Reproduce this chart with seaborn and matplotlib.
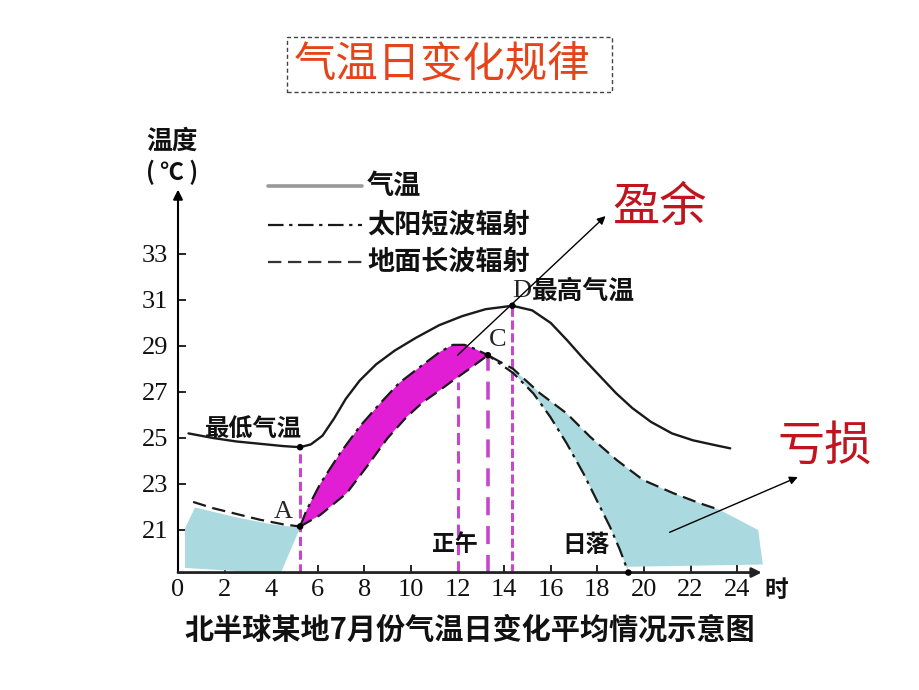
import matplotlib
matplotlib.use("Agg")
import matplotlib.pyplot as plt
from matplotlib.lines import Line2D
from matplotlib.patches import Rectangle
import seaborn as sns
import numpy as np

# ---------------- data ----------------
# air temperature (solid)
air_h = [0.45, 1.5, 2.5, 3.5, 4.5, 5.24, 5.7, 6.2, 6.7, 7.2, 7.8, 8.5, 9.3, 10.2, 11.2, 12.2,
         13.2, 14.35, 15.2, 16.0, 16.7, 17.4, 18.1, 18.8, 19.5, 20.3, 21.2, 22.1, 23.0, 23.7]
air_t = [25.2, 25.0, 24.85, 24.75, 24.65, 24.6, 24.72, 25.1, 25.85, 26.7, 27.5, 28.2, 28.8, 29.35,
         29.9, 30.3, 30.6, 30.75, 30.55, 30.0, 29.25, 28.45, 27.7, 26.95, 26.3, 25.7, 25.2, 24.9,
         24.7, 24.55]

# solar short-wave radiation (dash-dot), sunrise side to sunset
sun_h = [5.24, 5.52, 6.1, 6.95, 7.8, 8.67, 9.5, 10.4, 11.25, 11.8, 12.3, 12.8, 13.3, 14.39, 15.25,
         15.97, 16.68, 17.4, 17.97, 18.54, 18.97, 19.33]
sun_t = [21.15, 21.87, 23.0, 24.33, 25.5, 26.5, 27.4, 28.1, 28.75, 29.05, 29.05, 28.85, 28.6, 27.82,
         26.94, 25.93, 24.77, 23.46, 22.3, 21.14, 20.13, 19.15]

# ground long-wave radiation (dashed): night part and day part
gnd_night_h = [0.65, 1.5, 2.5, 3.5, 4.5, 5.24]
gnd_night_t = [22.22, 21.95, 21.7, 21.45, 21.25, 21.15]
gnd_day_h = [5.24, 6.1, 7.24, 8.1, 9.0, 9.8, 10.5, 11.2, 11.8, 12.5, 13.3, 14.39, 15.54, 16.68,
             17.68, 18.83, 19.97, 21.26, 22.4, 23.26]
gnd_day_t = [21.15, 21.65, 22.6, 23.75, 25.0, 25.9, 26.55, 27.05, 27.5, 28.0, 28.6, 28.0, 26.94,
             26.07, 25.06, 24.04, 23.17, 22.6, 22.16, 21.87]

# filled areas (outline corners)
loss_left_h = [0.3, 0.73, 2.5, 4.0, 5.24, 4.4, 0.3]
loss_left_t = [21.07, 21.98, 21.55, 21.25, 21.1, 19.1, 19.35]
loss_right_corner_h = [24.9, 25.1, 19.3]
loss_right_corner_t = [21.0, 19.5, 19.4]

# vertical guide lines and marked points
vline_h = [5.24, 12.0, 13.3, 14.35]
vline_top = [24.6, 27.45, 28.6, 30.75]
point_h = [5.24, 5.24, 13.3, 14.35, 19.33]
point_t = [21.15, 24.6, 28.6, 30.75, 19.15]

xticks = list(range(0, 25, 2))
yticks = [21, 23, 25, 27, 29, 31, 33]

# ---------------- style ----------------
sns.set_theme(style="white")
plt.rcParams["font.family"] = ["Noto Sans CJK SC", "DejaVu Sans"]
CJK = ["Noto Sans CJK SC", "DejaVu Sans"]
SERIF = ["Liberation Serif", "DejaVu Serif"]

W, H = 920, 690
fig = plt.figure(figsize=(9.2, 6.9), dpi=100)
fig.patch.set_facecolor("white")


def P(x, y):
    return x / W, 1 - y / H


# axes: hour h -> px 178 + 23.3h ; temp T -> px 530 - 23(T-21)
x0, pxh = 178, 23.3
ymin, ymax = 19.15, 36.0
ybot = 530 - 23 * (ymin - 21)
ytop = 530 - 23 * (ymax - 21)
ax = fig.add_axes([x0 / W, 1 - ybot / H, 26 * pxh / W, (ybot - ytop) / H])
ax.set_xlim(0, 26)
ax.set_ylim(ymin, ymax)
ax.set_facecolor("none")
for s in ax.spines.values():
    s.set_visible(False)

MAG = "#E21ED4"
BLUE = "#AADADF"
VIO = "#C846CC"

# fills
ax.fill(loss_left_h, loss_left_t, color=BLUE, lw=0, zorder=1)
gain_h = sun_h[:13] + gnd_day_h[:11][::-1]
gain_t = sun_t[:13] + gnd_day_t[:11][::-1]
ax.fill(gain_h, gain_t, color=MAG, lw=0, zorder=1)
loss_h = gnd_day_h[11:] + loss_right_corner_h + sun_h[13:][::-1]
loss_t = gnd_day_t[11:] + loss_right_corner_t + sun_t[13:][::-1]
ax.fill(loss_h, loss_t, color=BLUE, lw=0, zorder=1)

# vertical guides
styles = [(0, (3, 1.5)), (0, (4, 2)), (0, (5, 3)), (0, (3, 1.2))]
widths = [2.2, 2.2, 2.6, 2.2]
for h, top, st, w in zip(vline_h, vline_top, styles, widths):
    ax.vlines(h, ymin, top, colors=VIO, linestyles=[st], lw=w, zorder=2)

# lines
sns.lineplot(x=air_h, y=air_t, ax=ax, color="#1a1a1a", lw=1.7, sort=False, estimator=None,
             legend=False, zorder=4)
sns.lineplot(x=sun_h, y=sun_t, ax=ax, color="#1a1a1a", lw=1.6, sort=False, estimator=None,
             legend=False, zorder=4, linestyle=(0, (7, 2.5, 1.5, 2.5)))
sns.lineplot(x=gnd_night_h, y=gnd_night_t, ax=ax, color="#1a1a1a", lw=1.6, sort=False,
             estimator=None, legend=False, zorder=4, linestyle=(0, (6, 3)))
sns.lineplot(x=gnd_day_h, y=gnd_day_t, ax=ax, color="#1a1a1a", lw=1.6, sort=False,
             estimator=None, legend=False, zorder=4, linestyle=(0, (6, 3)))
sns.scatterplot(x=point_h, y=point_t, ax=ax, color="black", s=22, zorder=5, legend=False,
                edgecolor="none", clip_on=False)

# axes arrows
ax.annotate("", xy=(0, 35.8), xytext=(0, ymin), annotation_clip=False,
            arrowprops=dict(arrowstyle="-|>", color="black", lw=1.5, mutation_scale=14,
                            shrinkA=0, shrinkB=0))
ax.annotate("", xy=(25.05, ymin), xytext=(0, ymin), annotation_clip=False,
            arrowprops=dict(arrowstyle="-|>", color="#222222", lw=2.0, mutation_scale=14,
                            shrinkA=0, shrinkB=0))

# ticks
ax.set_xticks(xticks)
ax.set_xticklabels([str(v) for v in xticks], fontfamily=SERIF, fontsize=19)
ax.set_yticks(yticks)
ax.set_yticklabels([str(v) for v in yticks], fontfamily=SERIF, fontsize=19)
ax.tick_params(axis="both", direction="in", length=6, width=1.2, color="black",
               labelcolor="#111111", bottom=True, left=True)
ax.tick_params(axis="x", pad=5)
ax.tick_params(axis="y", pad=7)
ax.grid(False)

# in-plot annotations
ax.text(5.3, 24.85, "最低气温", fontsize=17.5, ha="right", va="bottom", family=CJK,
        fontweight="bold", color="#111111")
ax.text(4.5, 21.3, "A", fontsize=19, ha="center", va="bottom", family=SERIF)
ax.text(13.7, 28.8, "C", fontsize=19, ha="center", va="bottom", family=SERIF)
ax.text(14.35, 30.9, "D", fontsize=19, ha="left", va="bottom", family=SERIF)
ax.text(15.2, 30.8, "最高气温", fontsize=18.5, ha="left", va="bottom", family=CJK,
        fontweight="bold", color="#111111")
ax.text(11.9, 20.35, "正午", fontsize=16.5, ha="center", va="center", family=CJK,
        fontweight="bold", color="#111111")
ax.text(17.5, 20.35, "日落", fontsize=17, ha="center", va="center", family=CJK,
        fontweight="bold", color="#111111")
ax.text(25.15, 18.4, "时", fontsize=17, ha="left", va="center", family=CJK,
        fontweight="bold", color="#111111")

# annotation arrows
ax.annotate("", xy=(18.35, 34.65), xytext=(12.0, 28.6), annotation_clip=False,
            arrowprops=dict(arrowstyle="-|>", color="black", lw=1.0, mutation_scale=12,
                            shrinkA=0, shrinkB=0))
ax.annotate("", xy=(26.6, 23.3), xytext=(21.1, 20.9), annotation_clip=False,
            arrowprops=dict(arrowstyle="-|>", color="black", lw=1.0, mutation_scale=12,
                            shrinkA=0, shrinkB=0))

# y label
fig.text(*P(172, 141), "温度", fontsize=18.5, ha="center", va="center", family=CJK,
         fontweight="bold", color="#111111")
fig.text(*P(172, 172), "( ℃ )", fontsize=17, ha="center", va="center", family=CJK,
         fontweight="bold", color="#111111")

# legend
leg_y = [186, 225, 262]
leg_lab = ["气温", "太阳短波辐射", "地面长波辐射"]
leg_sty = ["-", (0, (7, 2.5, 1.5, 2.5)), (0, (6, 3))]
leg_col = ["#999999", "#1a1a1a", "#333333"]
leg_lw = [2.6, 1.6, 1.6]
for yy, lab, st, c, w in zip(leg_y, leg_lab, leg_sty, leg_col, leg_lw):
    (xa, ya), (xb, _) = P(268, yy), P(362, yy)
    fig.add_artist(Line2D([xa, xb], [ya, ya], transform=fig.transFigure, color=c, lw=w,
                          linestyle=st))
    fig.text(*P(367, yy), lab, fontsize=19.5, ha="left", va="center", family=CJK,
             fontweight="bold", color="#111111")

# title box
fig.add_artist(Rectangle(P(287, 92), 325 / W, 55 / H, transform=fig.transFigure, fill=False,
                         edgecolor="#444444", lw=1.0, linestyle=(0, (3, 2))))
fig.text(*P(442, 65), "气温日变化规律", fontsize=30.5, ha="center", va="center", family=CJK,
         color="#E5441B")

# gain / loss labels
fig.text(*P(660, 208), "盈余", fontsize=34, ha="center", va="center", family=CJK,
         color="#C0141E")
fig.text(*P(825, 446), "亏损", fontsize=34, ha="center", va="center", family=CJK,
         color="#C0141E")

# caption
fig.text(*P(470, 630), "北半球某地7月份气温日变化平均情况示意图", fontsize=21, ha="center",
         va="center", family=CJK, fontweight="bold", color="#111111")

fig.savefig("out.png", dpi=100, facecolor="white")
